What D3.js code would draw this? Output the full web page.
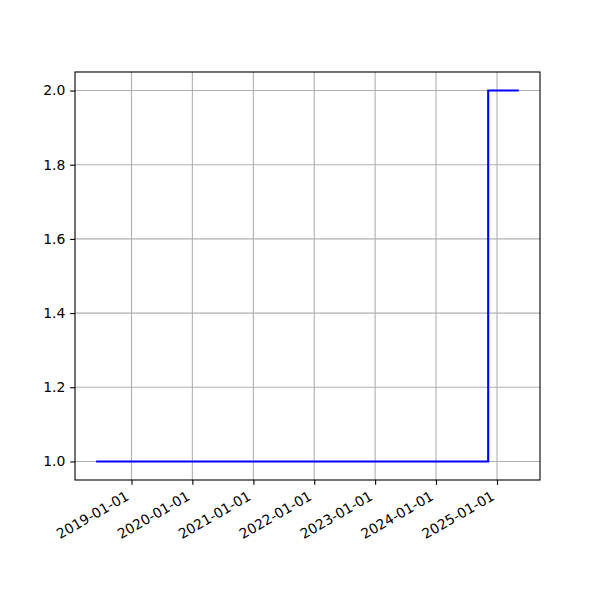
<!DOCTYPE html>
<html><head><meta charset="utf-8">
<script src="https://cdn.jsdelivr.net/npm/d3@7"></script>
<style>body{margin:0;background:#fff}svg{display:block}</style>
</head><body>
<script>
const dates = ["2018-06-03", "2024-11-09", "2025-05-12"];
const values = [1, 2, 2];
const xTickLabels = ["2019-01-01","2020-01-01","2021-01-01","2022-01-01","2023-01-01","2024-01-01","2025-01-01"];
const yTicks = [1.0, 1.2, 1.4, 1.6, 1.8, 2.0];

const W = 600, H = 600;
const L = 75, R = 540, T = 72, B = 480;
const parse = d3.timeParse("%Y-%m-%d");
const data = dates.map((d, i) => ({x: parse(d), y: values[i]}));

const svg = d3.select("body").append("svg").attr("width", W).attr("height", H);

const xe = d3.extent(data, d => +d.x);
const xp = (xe[1] - xe[0]) * 0.05;
const x = d3.scaleTime().domain([new Date(xe[0] - xp), new Date(xe[1] + xp)]).range([L, R]);
const ye = d3.extent(data, d => d.y);
const yp = (ye[1] - ye[0]) * 0.05;
const y = d3.scaleLinear().domain([ye[0] - yp, ye[1] + yp]).range([B, T]);

const xt = xTickLabels.map(parse);
const fs = "13.9px";
const font = "DejaVu Sans, sans-serif";

// grid
svg.append("g").selectAll("line").data(xt).join("line")
  .attr("x1", d => x(d)).attr("x2", d => x(d)).attr("y1", T).attr("y2", B)
  .attr("stroke", "#b0b0b0").attr("stroke-width", 1.1);
svg.append("g").selectAll("line").data(yTicks).join("line")
  .attr("x1", L).attr("x2", R).attr("y1", d => y(d)).attr("y2", d => y(d))
  .attr("stroke", "#b0b0b0").attr("stroke-width", 1.1);

// line
const line = d3.line().x(d => x(d.x)).y(d => y(d.y)).curve(d3.curveStepAfter);
svg.append("path").datum(data).attr("d", line)
  .attr("fill", "none").attr("stroke", "blue").attr("stroke-width", 2.08);

// frame
svg.append("rect").attr("x", L).attr("y", T).attr("width", R - L).attr("height", B - T)
  .attr("fill", "none").attr("stroke", "black").attr("stroke-width", 1.1);

// x axis
const xa = svg.append("g").attr("transform", `translate(0,${B})`)
  .call(d3.axisBottom(x).tickValues(xt).tickSize(4.86).tickFormat(d3.timeFormat("%Y-%m-%d")));
xa.select(".domain").remove();
xa.selectAll(".tick line").attr("stroke", "black").attr("stroke-width", 1.1);
xa.selectAll(".tick text")
  .attr("font-family", font).attr("font-size", fs).attr("fill", "black")
  .attr("text-anchor", "end").attr("dy", null).attr("y", 0)
  .attr("transform", "translate(-2,19) rotate(-30)");

// y axis
const ya = svg.append("g").attr("transform", `translate(${L},0)`)
  .call(d3.axisLeft(y).tickValues(yTicks).tickSize(4.86).tickPadding(4.86).tickFormat(d3.format(".1f")));
ya.select(".domain").remove();
ya.selectAll(".tick line").attr("stroke", "black").attr("stroke-width", 1.1);
ya.selectAll(".tick text").attr("font-family", font).attr("font-size", fs).attr("fill", "black");
</script>
</body></html>
